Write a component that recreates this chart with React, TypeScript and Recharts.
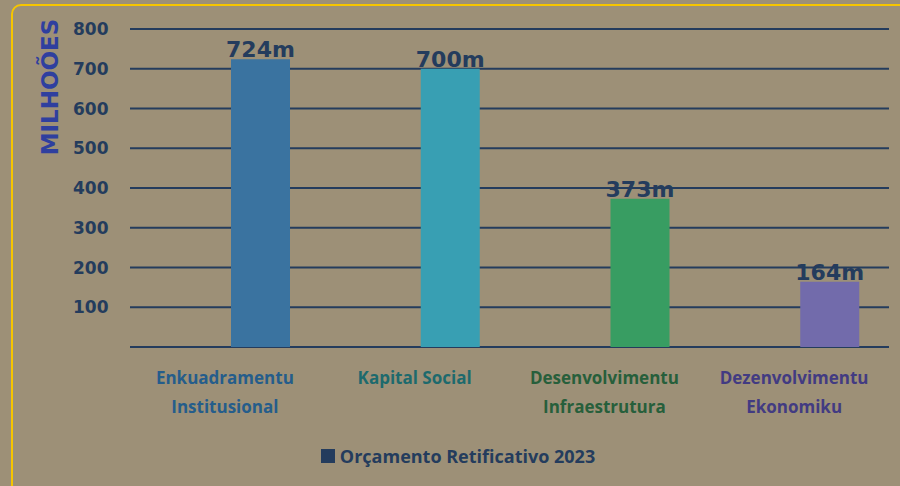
import React from "react";
import { BarChart, Bar, XAxis, YAxis, CartesianGrid, Cell, LabelList, Legend, Label } from "recharts";

const lineOne = ["Enkuadramentu", "Kapital Social", "Desenvolvimentu", "Dezenvolvimentu"];
const lineTwo = ["Institusional", "", "Infraestrutura", "Ekonomiku"];
const values = [724, 700, 373, 164];
const yTicks = [0, 100, 200, 300, 400, 500, 600, 700, 800];

const BAR_COLORS = ["#3a73a0", "#389fb3", "#389d62", "#726bab"];
const TEXT_COLORS = ["#255d8b", "#1d6a6d", "#275f3b", "#423b82"];
const NAVY = "#243c5d";
const BG = "#9d9077";

const data = values.map((v, i) => ({ name: lineOne[i], blank: null, value: v, i }));

function YTick(props: any) {
  if (props.payload.value === 0) return null;
  return (
    <text x={73} y={props.y} dy={6} fill={NAVY} fontSize={17} fontWeight={700} fontFamily="DejaVu Sans" textAnchor="start">
      {props.payload.value}
    </text>
  );
}

function XTick(props: any) {
  const i = props.index;
  return (
    <g>
      <text x={props.x} y={props.y} dy={29} textAnchor="middle" fill={TEXT_COLORS[i]} fontSize={17} fontWeight={700} fontFamily="Open Sans">
        {lineOne[i]}
      </text>
      <text x={props.x} y={props.y} dy={58} textAnchor="middle" fill={TEXT_COLORS[i]} fontSize={17} fontWeight={700} fontFamily="Open Sans">
        {lineTwo[i]}
      </text>
    </g>
  );
}

function LegendBox() {
  return (
    <div style={{ display: "flex", justifyContent: "center", alignItems: "center", height: 30, paddingLeft: 16 }}>
      <span style={{ width: 14, height: 14, background: NAVY, display: "inline-block", marginRight: 5 }} />
      <span style={{ color: NAVY, fontSize: 18, fontWeight: 700, fontFamily: "Open Sans" }}>Orçamento Retificativo 2023</span>
    </div>
  );
}

export default function App() {
  return (
    <div style={{ position: "absolute", left: 0, top: 0, width: 900, height: 486, background: BG, overflow: "hidden" }}>
      <div style={{ position: "absolute", left: 11, top: 4, width: 1000, height: 700, border: "2px solid #f6c500", borderRadius: 10 }} />
      <div style={{ position: "absolute", left: 0, top: 0 }}>
        <BarChart width={900} height={486} data={data} barGap={12} margin={{ top: 29, right: 11, left: 50, bottom: 15 }}>
          <CartesianGrid vertical={false} stroke={NAVY} strokeWidth={2} />
          <XAxis dataKey="name" axisLine={false} tickLine={false} height={94} interval={0} tick={<XTick />} />
          <YAxis width={80} domain={[0, 800]} ticks={yTicks} axisLine={false} tickLine={false} tick={<YTick />}>
            <Label
              content={() => (
                <text x={50} y={87} transform="rotate(-90, 50, 87)" textAnchor="middle" dominantBaseline="central" fill="#2f3f9f" fontSize={23} fontWeight={700} fontFamily="DejaVu Sans">
                  MILHOÕES
                </text>
              )}
            />
          </YAxis>
          <Legend verticalAlign="bottom" height={30} wrapperStyle={{ left: 0, width: 900 }} content={<LegendBox />} />
          <Bar dataKey="blank" barSize={59} fill="transparent" legendType="none" isAnimationActive={false} />
          <Bar dataKey="value" barSize={59} isAnimationActive={false} name="Orçamento Retificativo 2023">
            {data.map((d, i) => (
              <Cell key={d.name} fill={BAR_COLORS[i]} />
            ))}
            <LabelList
              dataKey="value"
              content={(p: any) => (
                <text x={p.x + p.width / 2} y={p.y - 2} textAnchor="middle" fill={NAVY} fontSize={22} fontWeight={700} fontFamily="DejaVu Sans">
                  {p.value}m
                </text>
              )}
            />
          </Bar>
        </BarChart>
      </div>
    </div>
  );
}
